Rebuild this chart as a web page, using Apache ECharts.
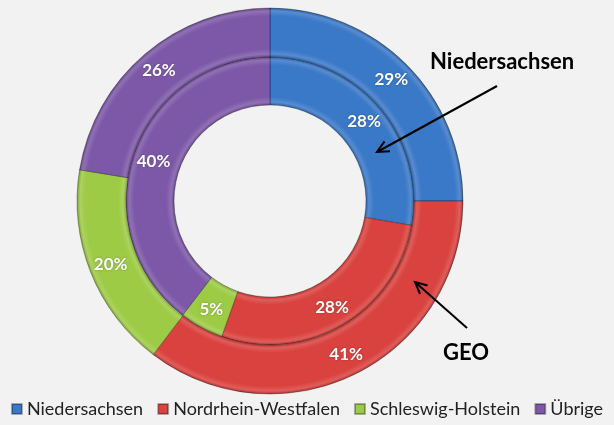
<!DOCTYPE html>
<html>
<head>
<meta charset="utf-8">
<script src="https://cdn.jsdelivr.net/npm/echarts@6/dist/echarts.min.js"></script>
<style>
  html, body { margin: 0; padding: 0; background: #f2f2f2; }
  #main { width: 614px; height: 425px; }
</style>
</head>
<body>
<div id="main"></div>
<script>
var regions = ['Niedersachsen', 'Nordrhein-Westfalen', 'Schleswig-Holstein', 'Übrige'];
var outerValues = [29, 41, 20, 26];   // äußerer Ring
var innerValues = [28, 28, 5, 40];    // innerer Ring (GEO)
var colors = ['#3a78c8', '#d9423e', '#9dcb45', '#7d58a8'];

var cx = 270, cy = 201;

function shade(hex, f) {
  var n = parseInt(hex.slice(1), 16);
  var r = (n >> 16) & 255, g = (n >> 8) & 255, b = n & 255;
  function m(c) { return Math.round(f > 0 ? c + (255 - c) * f : c * (1 + f)); }
  return 'rgb(' + m(r) + ',' + m(g) + ',' + m(b) + ')';
}

// bevel look: radial gradient in absolute radius
function bevel(col, r0, r1) {
  var R = r1;
  function s(px) { return px / R; }
  return {
    type: 'radial', x: cx, y: cy, r: R, global: true,
    colorStops: [
      { offset: 0, color: col },
      { offset: s(r0), color: shade(col, -0.15) },
      { offset: s(r0 + 3), color: shade(col, 0.15) },
      { offset: s(r0 + 8), color: col },
      { offset: s(r1 - 8), color: col },
      { offset: s(r1 - 3), color: shade(col, 0.15) },
      { offset: 1, color: shade(col, -0.2) }
    ]
  };
}

function items(vals, r0, r1) {
  return vals.map(function (v, i) {
    return { name: regions[i], value: v, itemStyle: { color: bevel(colors[i], r0, r1) } };
  });
}

function arrow(x1, y1, x2, y2) {
  var dx = x2 - x1, dy = y2 - y1, len = Math.sqrt(dx * dx + dy * dy);
  var ux = dx / len, uy = dy / len, h = 13, a = 0.45;
  var p1 = [x2 - h * (ux * Math.cos(a) - uy * Math.sin(a)), y2 - h * (uy * Math.cos(a) + ux * Math.sin(a))];
  var p2 = [x2 - h * (ux * Math.cos(-a) - uy * Math.sin(-a)), y2 - h * (uy * Math.cos(-a) + ux * Math.sin(-a))];
  return [
    { type: 'line', shape: { x1: x1, y1: y1, x2: x2, y2: y2 }, style: { stroke: '#000', lineWidth: 2 }, z: 100 },
    { type: 'polyline', shape: { points: [p1, [x2, y2], p2] }, style: { stroke: '#000', lineWidth: 2, fill: null }, z: 100 }
  ];
}

var labelStyle = {
  show: true, position: 'inside', formatter: '{c}%',
  color: '#fff', fontFamily: 'Lato', fontWeight: 'bold', fontSize: 17,
  textShadowColor: 'rgba(0,0,0,0.3)', textShadowBlur: 2
};

var chart = echarts.init(document.getElementById('main'));
chart.setOption({
  backgroundColor: '#f2f2f2',
  animation: false,
  legend: {
    bottom: 2, left: 'center',
    icon: 'rect', itemWidth: 10, itemHeight: 10, itemGap: 14,
    textStyle: { fontFamily: 'Lato', fontSize: 18, color: '#222' },
    data: regions.map(function (r, i) { return { name: r, itemStyle: { color: colors[i] } }; })
  },
  series: [
    {
      name: 'GEO', type: 'pie', center: [cx, cy], radius: [96, 144],
      startAngle: 90, clockwise: true, silent: true,
      label: labelStyle, labelLine: { show: false },
      itemStyle: { borderColor: 'rgba(0,0,0,0.3)', borderWidth: 1 },
      data: items(innerValues, 96, 144)
    },
    {
      name: 'Niedersachsen', type: 'pie', center: [cx, cy], radius: [144, 193],
      startAngle: 90, clockwise: true, silent: true,
      label: labelStyle, labelLine: { show: false },
      itemStyle: { borderColor: 'rgba(0,0,0,0.3)', borderWidth: 1 },
      data: items(outerValues, 144, 193)
    }
  ],
  graphic: [
    { type: 'text', left: 430, top: 51, style: { text: 'Niedersachsen', fontFamily: 'Lato', fontWeight: 'bold', fontSize: 22, fill: '#000' }, z: 100 },
    { type: 'text', left: 443, top: 342, style: { text: 'GEO', fontFamily: 'Lato', fontWeight: 'bold', fontSize: 22, fill: '#000' }, z: 100 }
  ].concat(arrow(497, 86, 377, 152)).concat(arrow(467, 328, 415, 282))
});
</script>
</body>
</html>
